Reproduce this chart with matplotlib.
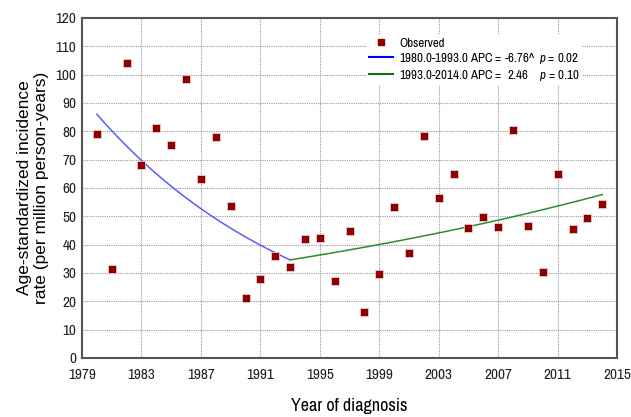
import matplotlib
matplotlib.use("Agg")
import matplotlib.pyplot as plt
import numpy as np
from matplotlib.lines import Line2D

years = list(range(1980, 2015))
observed = [79, 31.3, 104, 68, 81.3, 75, 98.5, 63, 78, 53.5,
            21, 27.8, 36, 32, 42, 42.2, 27.3, 44.7, 16.2, 29.8,
            53.2, 37.0, 78.4, 56.5, 65.0, 45.9, 49.9, 46.2, 80.6, 46.7,
            30.2, 65.0, 45.4, 49.3, 54.2]

seg1_years = [1980, 1993]
seg2_years = [1993, 2014]
apc1 = -6.76
apc2 = 2.46
fit_1980 = 86.0

xticks = list(range(1979, 2016, 4))
yticks = list(range(0, 121, 10))

narrow = ['Archivo Narrow', 'DejaVu Sans']
regular = ['Liberation Sans', 'DejaVu Sans']
plt.rcParams['mathtext.fontset'] = 'custom'
plt.rcParams['mathtext.it'] = 'Archivo Narrow:italic'
plt.rcParams['mathtext.rm'] = 'Archivo Narrow'

fig = plt.figure(figsize=(6.31, 4.17), dpi=100)
ax = fig.add_axes([0.130, 0.1415, 0.848, 0.8155])

# fitted joinpoint segments from reported APCs
t1 = np.linspace(seg1_years[0], seg1_years[1], 60)
f1 = fit_1980 * (1 + apc1 / 100) ** (t1 - seg1_years[0])
fit_1993 = fit_1980 * (1 + apc1 / 100) ** (seg1_years[1] - seg1_years[0])
t2 = np.linspace(seg2_years[0], seg2_years[1], 60)
f2 = fit_1993 * (1 + apc2 / 100) ** (t2 - seg2_years[0])

ax.plot(t1, f1, color='#5a5aff', lw=1.1, zorder=3)
ax.plot(t2, f2, color='#2e8b2e', lw=1.1, zorder=3)
ax.plot(years, observed, 's', color='#8b0000', ms=6, mec='#f0c8c8', mew=0.6,
        linestyle='none', zorder=4)

ax.set_xlim(1979, 2015)
ax.set_ylim(0, 120)
ax.set_xticks(xticks)
ax.set_yticks(yticks)
ax.grid(True, color='#999999', linestyle=(0, (1, 1)), lw=0.8)
ax.set_axisbelow(True)
for s in ax.spines.values():
    s.set_color('#555555')
    s.set_linewidth(1.5)
ax.tick_params(length=0, labelsize=11, colors='#222222')
ax.tick_params(axis='x', pad=7)
ax.tick_params(axis='y', pad=4)
for lab in ax.get_xticklabels() + ax.get_yticklabels():
    lab.set_family(narrow)

ax.set_xlabel('Year of diagnosis', fontsize=13, family=narrow, labelpad=12)
ax.set_ylabel('Age-standardized incidence\nrate (per million person-years)',
              fontsize=12.5, family=regular, labelpad=5, linespacing=1.1)

handles = [Line2D([], [], marker='s', color='#8b0000', ls='none', ms=4),
           Line2D([], [], color='blue', lw=1.5),
           Line2D([], [], color='#1a6b1a', lw=1.5)]
labels = ['Observed',
          '1980.0-1993.0 APC = -6.76^  $p$ = 0.02',
          '1993.0-2014.0 APC =  2.46    $p$ = 0.10']
leg = ax.legend(handles, labels, loc='upper left', bbox_to_anchor=(0.52, 0.968),
                frameon=True, framealpha=1, edgecolor='none', facecolor='white',
                prop={'family': narrow, 'size': 9.3}, handlelength=1.8,
                handletextpad=0.5, labelspacing=0.15, borderpad=0.2, markerscale=1)
leg.set_zorder(5)

fig.savefig('out.png', dpi=100)
